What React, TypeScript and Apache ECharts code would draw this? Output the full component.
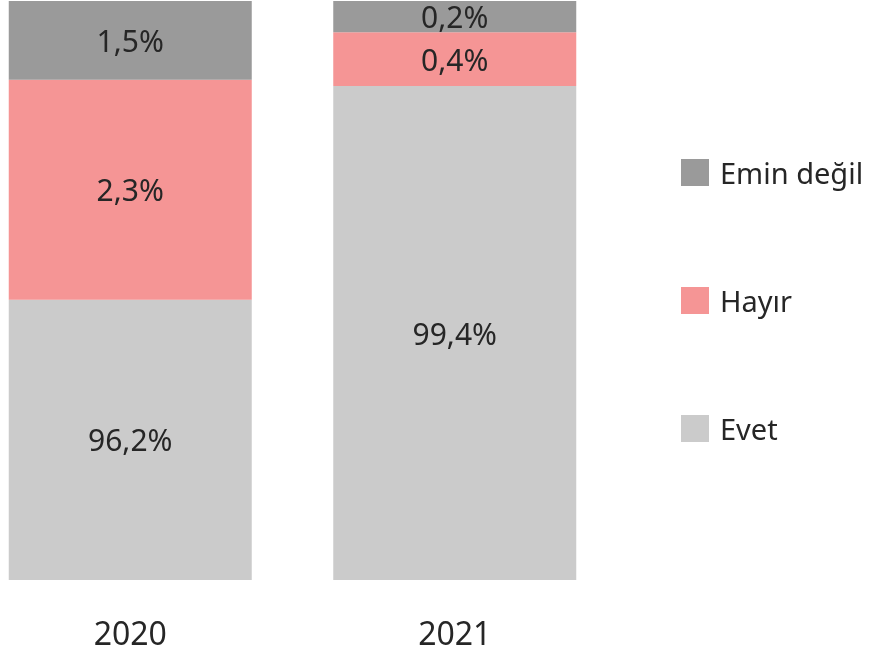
import React, { useEffect, useRef } from "react";
import * as echarts from "echarts";

const years = ["2020", "2021"];
const seriesNames = ["Evet", "Hayır", "Emin değil"];
// Percentages shown in the labels
const evetValues = [96.2, 99.4];
const hayirValues = [2.3, 0.4];
const eminValues = [1.5, 0.2];
// Drawn segment heights (share of bar height, as drawn in the reference)
const evetHeights = [48.4, 85.3];
const hayirHeights = [38.0, 9.3];
const eminHeights = [13.6, 5.4];
const colors = ["#CBCBCB", "#F59595", "#9A9A9A"];
const FONT = "Noto Sans";
const SHIFT = 32;

const fmt = (v: number) => v.toFixed(1).replace(".", ",") + "%";

export default function App() {
  const ref = useRef<HTMLDivElement>(null);
  useEffect(() => {
    const chart = echarts.init(ref.current!, null, { renderer: "svg" });
    const heights = [evetHeights, hayirHeights, eminHeights];
    const values = [evetValues, hayirValues, eminValues];
    chart.setOption({
      animation: false,
      grid: { left: 0, top: 1, width: 649, bottom: 75 },
      legend: {
        orient: "vertical",
        left: 676 + SHIFT,
        top: 153,
        itemWidth: 28,
        itemHeight: 27,
        itemGap: 99,
        icon: "rect",
        data: ["Emin değil", "Hayır", "Evet"],
        textStyle: { fontFamily: FONT, fontSize: 29, color: "#262626", padding: [0, 0, 0, 6], lineHeight: 28 },
      },
      xAxis: {
        type: "category",
        data: years,
        axisLine: { show: false },
        axisTick: { show: false },
        axisLabel: { fontFamily: FONT, fontSize: 32, color: "#262626", margin: 36 },
      },
      yAxis: { type: "value", min: 0, max: 100, show: false },
      series: seriesNames.map((name, i) => ({
        name,
        type: "bar",
        stack: "total",
        barWidth: 243,
        itemStyle: { color: colors[i] },
        label: {
          show: true,
          position: "inside",
          fontFamily: FONT,
          fontSize: 30,
          lineHeight: 26,
          color: "#262626",
          formatter: (p: any) => fmt(values[i][p.dataIndex]),
        },
        data: heights[i],
      })),
    });
    return () => chart.dispose();
  }, []);
  return (
    <div
      ref={ref}
      style={{ position: "fixed", left: -SHIFT, top: 0, width: 875 + SHIFT, height: 655 }}
    />
  );
}
